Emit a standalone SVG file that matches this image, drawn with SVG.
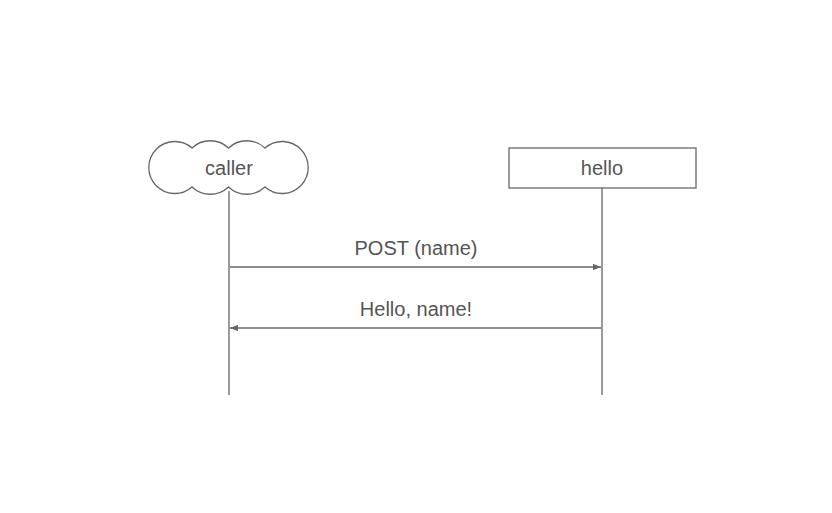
<svg xmlns="http://www.w3.org/2000/svg" width="832" height="513" viewBox="0 0 832 513">
<style>
.shape{fill:#fff;stroke:#666;stroke-width:1.3}
.life{stroke:#666;stroke-width:1.3;fill:none}
.msg{stroke:#666;stroke-width:1.3;fill:none}
text{font-family:"Liberation Sans",Arial,sans-serif;font-size:20px;fill:#555;text-anchor:middle}
</style>
<defs>
<marker id="ah" viewBox="0 0 10 8" refX="10" refY="4" markerWidth="8" markerHeight="6.4" markerUnits="userSpaceOnUse" orient="auto-start-reverse">
<path d="M0,0 L10,4 L0,8 z" fill="#666"/>
</marker>
</defs>
<rect width="832" height="513" fill="#fff"/>
<g id="lifelines">
<line class="life" x1="229" y1="191" x2="229" y2="395"/>
<line class="life" x1="602" y1="188" x2="602" y2="395"/>
</g>
<g id="caller">
<path class="shape" d="M192,148 A26.6,26.6 0 0 1 228.5,148 A26.6,26.6 0 0 1 265,148 A26,26 0 1 1 265,187 A26.6,26.6 0 0 1 228.5,187 A26.6,26.6 0 0 1 192,187 A26,26 0 1 1 192,148 Z"/>
<text x="229" y="175">caller</text>
</g>
<g id="hello">
<rect class="shape" x="509" y="148" width="187" height="40"/>
<text x="602" y="175">hello</text>
</g>
<g id="connectors">
<line class="msg" x1="230" y1="267" x2="601" y2="267" marker-end="url(#ah)"/>
<text x="416" y="255">POST (name)</text>
<line class="msg" x1="601" y1="328" x2="230" y2="328" marker-end="url(#ah)"/>
<text x="416" y="316">Hello, name!</text>
</g>
</svg>
